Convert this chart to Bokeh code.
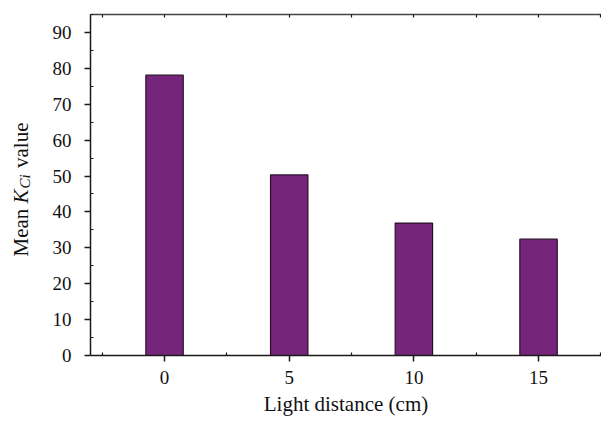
import math
from bokeh.plotting import figure
from bokeh.layouts import row
from bokeh.models import ColumnDataSource, Range1d, LinearAxis, FixedTicker, Label
from bokeh.embed import file_html
from bokeh.resources import INLINE

# data
categories = ["0", "5", "10", "15"]
values = [78.1, 50.3, 36.9, 32.4]

FONT = "Liberation Serif"
BAR_COLOR = "#76267A"
AX = "#1a1a1a"

X0, X1 = -0.594, 3.505
Y0, Y1 = 0, 95
LW = 40                 # width of the side panel holding the y label
LEFT, TOP, BOTTOM = 90, 14, 68
W, H = 601, 423

xpos = list(range(len(categories)))
src = ColumnDataSource(data=dict(x=xpos, top=values, cat=categories))

p = figure(width=W - LW, height=H, output_backend="svg", toolbar_location=None,
           x_range=Range1d(X0, X1), y_range=Range1d(Y0, Y1),
           min_border_left=LEFT - LW, min_border_right=0, min_border_top=TOP, min_border_bottom=BOTTOM,
           x_axis_location=None, y_axis_location=None)
p.outline_line_color = None
p.grid.visible = False
p.background_fill_color = "white"
p.border_fill_color = "white"

p.vbar(x="x", top="top", width=0.3, bottom=0, source=src,
       fill_color=BAR_COLOR, line_color="#2a0f2a", line_width=1.2)

def style_axis(a):
    a.axis_line_color = AX
    a.axis_line_width = 1.5
    a.major_tick_line_color = AX
    a.major_tick_line_width = 1.5
    a.minor_tick_line_color = AX
    a.minor_tick_line_width = 1.2

# bottom axis
xa = LinearAxis(ticker=FixedTicker(ticks=xpos, minor_ticks=[-0.5, 0.5, 1.5, 2.5, 3.5]))
xa.major_label_overrides = {i: c for i, c in enumerate(categories)}
xa.axis_label = "Light distance (cm)"
xa.axis_label_text_font = FONT
xa.axis_label_text_font_size = "21px"
xa.axis_label_text_font_style = "normal"
xa.axis_label_text_color = "#111111"
xa.axis_label_standoff = 5
xa.major_label_text_font = FONT
xa.major_label_text_font_size = "19px"
xa.major_label_text_color = "#111111"
xa.major_label_standoff = 9
xa.major_tick_out = 6
xa.major_tick_in = 0
xa.minor_tick_in = 3
xa.minor_tick_out = 0
style_axis(xa)
p.add_layout(xa, "below")

# left axis
ya = LinearAxis(ticker=FixedTicker(ticks=list(range(0, 91, 10)), minor_ticks=list(range(5, 96, 10))))
ya.axis_label = None
ya.major_label_text_font = FONT
ya.major_label_text_font_size = "19px"
ya.major_label_text_color = "#111111"
ya.major_label_standoff = 13
ya.major_tick_out = 6
ya.major_tick_in = 0
ya.minor_tick_in = 3
ya.minor_tick_out = 0
style_axis(ya)
p.add_layout(ya, "left")

# top border with small inward ticks
top_ticks = [-0.5, 0, 0.5, 1, 1.5, 2, 2.5, 3, 3.5]
ta = LinearAxis(ticker=FixedTicker(ticks=top_ticks))
ta.major_label_text_font_size = "0px"
ta.major_label_overrides = {t: "" for t in top_ticks}
ta.major_tick_in = 3
ta.major_tick_out = 0
ta.minor_tick_line_color = None
ta.axis_line_color = "#444444"
ta.axis_line_width = 1.5
ta.major_tick_line_color = AX
ta.major_tick_line_width = 1.2
p.add_layout(ta, "above")

# side panel holding the y axis label: Mean K_Ci value
# its frame is aligned with the main frame, so data y = H - canvas y
q = figure(width=LW, height=H, output_backend="svg", toolbar_location=None,
           x_range=Range1d(0, LW), y_range=Range1d(BOTTOM, H - TOP),
           min_border_left=0, min_border_right=0, min_border_top=TOP, min_border_bottom=BOTTOM,
           x_axis_location=None, y_axis_location=None)
q.outline_line_color = None
q.grid.visible = False
q.background_fill_color = "white"
q.border_fill_color = "white"

fs = 21
sub = 15
sp = 0.25 * fs
w_mean = (0.889 + 0.444 + 0.444 + 0.5) * fs
w_K = 0.667 * fs + 1
w_Ci = (0.667 + 0.278) * sub + 1
w_val = (0.5 + 0.444 + 0.278 + 0.5 + 0.444) * fs
total = w_mean + sp + w_K + w_Ci + sp + w_val
center = H - 189.0
y0 = center - total / 2
xb = 20
pieces = [
    ("Mean", y0, xb, fs, "normal"),
    ("K", y0 + w_mean + sp, xb, fs, "italic"),
    ("Ci", y0 + w_mean + sp + w_K, xb + 4, sub, "italic"),
    ("value", y0 + w_mean + sp + w_K + w_Ci + sp, xb, fs, "normal"),
]
for txt, yy, xx, size, style in pieces:
    q.add_layout(Label(x=xx, y=yy, text=txt,
                       angle=math.pi / 2, angle_units="rad",
                       text_font=FONT, text_font_size=f"{size}px", text_font_style=style,
                       text_align="left", text_baseline="alphabetic", text_color="#111111"))

layout = row(q, p, spacing=0)
open("out.html", "w").write(file_html(layout, INLINE))
